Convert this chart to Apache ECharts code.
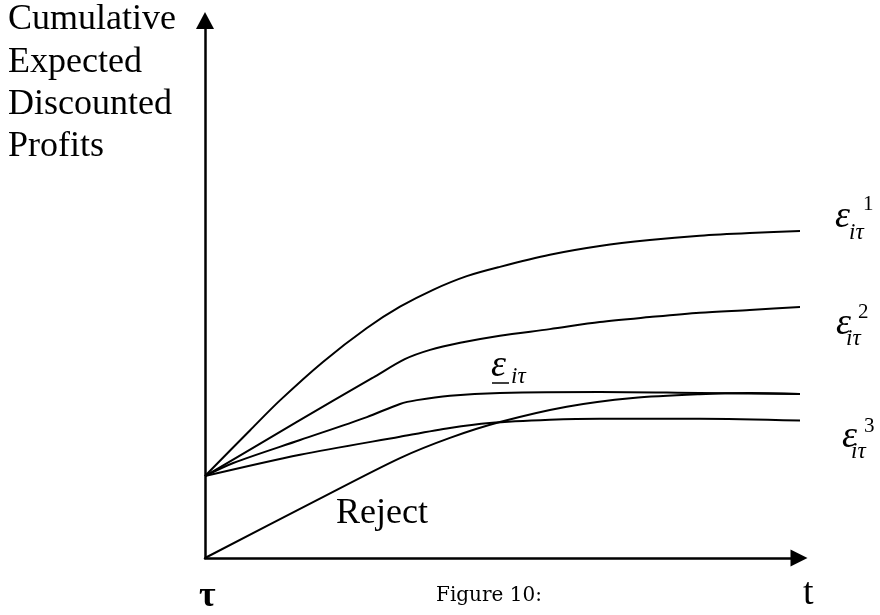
<!DOCTYPE html>
<html>
<head>
<meta charset="utf-8">
<style>
  html, body { margin: 0; padding: 0; background: #ffffff; }
  #chart { width: 880px; height: 615px; }
</style>
<script src="https://cdn.jsdelivr.net/npm/echarts/dist/echarts.min.js"></script>
</head>
<body>
<div id="chart"></div>
<script>
// ---- data (abstract units along t and along cumulative profits) ----
const eps1X = [0, 7.5, 12.5, 19.6, 26.9, 32.4, 37.9, 43.5, 49, 57.3, 65.6, 73.9, 82.2, 90.5, 99.7];
const eps1Y = [15, 23.4, 28.9, 35.9, 42.1, 46.0, 49.1, 51.6, 53.3, 55.5, 57.1, 58.2, 59.0, 59.5, 59.9];

const eps2X = [0, 9.1, 21.3, 27.9, 33.2, 37.4, 42.4, 49, 57.3, 65.6, 73.9, 82.2, 90.5, 99.7];
const eps2Y = [15, 20.9, 28.8, 33.0, 36.4, 38.1, 39.4, 40.7, 41.9, 43.2, 44.1, 44.9, 45.4, 46.0];

const epsLowX = [0, 4.7, 15.8, 26.9, 32.4, 35.2, 40.7, 49, 65.6, 82.2, 100.2];
const epsLowY = [15, 17.4, 21.6, 25.8, 28.2, 28.9, 29.7, 30.2, 30.4, 30.2, 30.0];

const eps3X = [0, 15.8, 32.4, 40.7, 47.3, 57.3, 65.6, 82.2, 101];
const eps3Y = [15, 18.9, 22.2, 23.8, 24.7, 25.3, 25.5, 25.5, 25.1];

const rejectX = [0, 18.6, 32.4, 40.7, 49, 60.1, 71.1, 82.2, 90.5, 100.2];
const rejectY = [0, 10.6, 18.3, 22.0, 24.9, 27.7, 29.3, 30.0, 30.2, 30.0];

const xMax = 98.7;   // arrow centre of the t axis
const yMax = 98.4;   // arrow centre of the profits axis

const yTitleLines = ['Cumulative', 'Expected', 'Discounted', 'Profits'];
const xStartLabel = 'τ';
const xEndLabel = 't';
const captionText = 'Figure 10:';
const rejectText = 'Reject';
const subText = 'iτ';
const supTexts = ['1', '2', '3'];

function zip(xs, ys) { return xs.map((x, i) => [x, ys[i]]); }

const chart = echarts.init(document.getElementById('chart'), null, { renderer: 'canvas' });

const serif = '"Liberation Serif", "Times New Roman", serif';
const lineStyle = { color: '#000', width: 2 };

function mkSeries(name, xs, ys) {
  return {
    name: name, type: 'line', data: zip(xs, ys),
    showSymbol: false, symbol: 'none', smooth: 0.3,
    clip: false, silent: true, lineStyle: lineStyle
  };
}

function txt(text, x, y, size, opts) {
  opts = opts || {};
  return {
    type: 'text', x: x, y: y, silent: true,
    style: {
      text: text,
      font: (opts.italic ? 'italic ' : '') + (opts.bold ? 'bold ' : '') + size + 'px ' + (opts.family || serif),
      fill: '#000',
      textAlign: opts.align || 'left',
      textVerticalAlign: 'middle'
    }
  };
}

function epsLabel(left, cy, sup, subLeft, supLeft, subCy, supCy) {
  return [
    txt('ε', left, cy - 4, 38, { italic: true }),
    txt(subText, subLeft, subCy - 2, 23, { italic: true }),
    txt(sup, supLeft, supCy, 21)
  ];
}

const graphics = [];
yTitleLines.forEach((t, i) => graphics.push(txt(t, 8, 20 + i * 42.3, 36)));
graphics.push(...epsLabel(835, 221, supTexts[0], 849, 863, 235, 204));
graphics.push(...epsLabel(836, 328, supTexts[1], 846, 858, 341, 312));
graphics.push(...epsLabel(842, 441, supTexts[2], 851, 864, 454, 426));
// underlined epsilon
graphics.push(txt('ε', 491, 366, 38, { italic: true }));
graphics.push(txt(subText, 511, 377, 23, { italic: true }));
graphics.push({ type: 'line', silent: true, shape: { x1: 492, y1: 383, x2: 509, y2: 383 }, style: { stroke: '#000', lineWidth: 1.5 } });
graphics.push(txt(rejectText, 336, 514, 36));
graphics.push(txt(xStartLabel, 199, 597, 36, { bold: true }));
graphics.push(txt(xEndLabel, 803, 594, 38));
graphics.push(txt(captionText, 436, 596, 20, { family: '"DejaVu Serif", serif' }));

const axisCommon = {
  type: 'value', min: 0,
  axisTick: { show: false }, axisLabel: { show: false }, splitLine: { show: false }
};

chart.setOption({
  animation: false,
  backgroundColor: '#ffffff',
  grid: { left: 205, right: 81, top: 20.5, bottom: 57, containLabel: false },
  xAxis: Object.assign({}, axisCommon, {
    max: xMax,
    axisLine: { show: true, onZero: false, symbol: ['none', 'triangle'], symbolSize: [17, 17],
      lineStyle: { color: '#000', width: 2.5 } }
  }),
  yAxis: Object.assign({}, axisCommon, {
    max: yMax,
    axisLine: { show: true, onZero: false, symbol: ['none', 'triangle'], symbolSize: [18, 17],
      lineStyle: { color: '#000', width: 2.5 } }
  }),
  series: [
    mkSeries('eps1', eps1X, eps1Y),
    mkSeries('eps2', eps2X, eps2Y),
    mkSeries('epsLow', epsLowX, epsLowY),
    mkSeries('eps3', eps3X, eps3Y),
    mkSeries('reject', rejectX, rejectY)
  ],
  graphic: graphics
});
</script>
</body>
</html>
